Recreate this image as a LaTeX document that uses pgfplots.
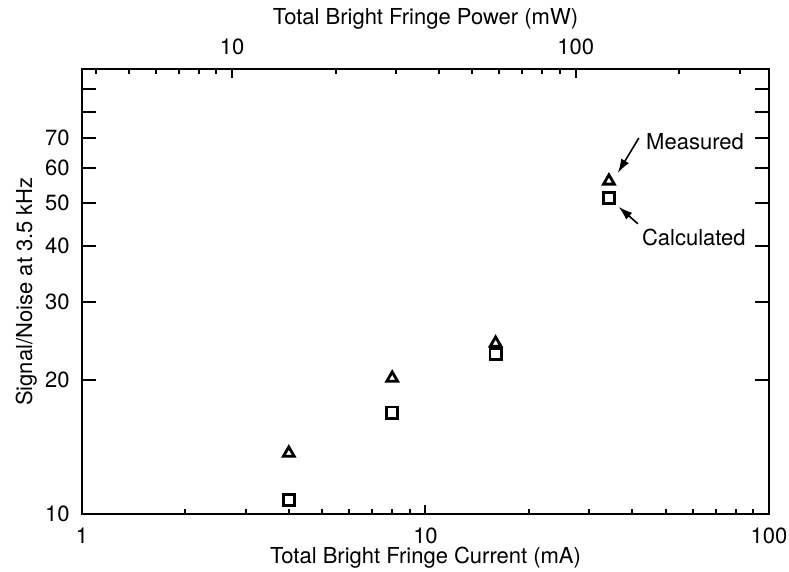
\documentclass[border=0pt]{standalone}
\usepackage{fontspec}
\setmainfont{TeX Gyre Heros}
\usepackage{pgfplots}
\pgfplotsset{compat=1.18}
\usetikzlibrary{arrows.meta}
\begin{document}
\begin{tikzpicture}
\useasboundingbox (-41pt,-29pt) rectangle (353.5pt,257pt);
% y axis and box
\begin{axis}[
  at={(0pt,0pt)}, anchor=south west,
  width=343.5pt, height=222.5pt, scale only axis,
  xmode=log, ymode=log,
  ymin=10, ymax=100,
  xmin=1, xmax=100,
  font=\fontsize{11}{13}\selectfont,
  axis line style={line width=1pt},
  every tick/.style={black, line width=1pt},
  tick align=inside,
  xtick=\empty, xminorticks=false, yminorticks=false,
  ytick={10,20,30,40,50,60,70,80,90},
  yticklabels={10,20,30,40,50,60,70,{},{}},
  ytick pos=both,
  major tick length=7pt,
  yticklabel style={anchor=east, inner sep=0pt, xshift=-6pt},
  ylabel={Signal/Noise at 3.5 kHz},
  ylabel style={at={(axis description cs:-0.081,0.5)}, anchor=center},
]
\end{axis}
% bottom x axis and data
\begin{axis}[
  at={(0pt,0pt)}, anchor=south west,
  width=343.5pt, height=222.5pt, scale only axis,
  xmode=log, ymode=log,
  ymin=10, ymax=100,
  xmin=1, xmax=100,
  font=\fontsize{11}{13}\selectfont,
  axis line style={line width=1pt},
  every tick/.style={black, line width=1pt},
  tick align=inside,
  hide y axis,
  xtick pos=left,
  xtick={1,10,100}, xticklabels={1,10,100},
  minor xtick={2,3,4,5,6,7,8,9,20,30,40,50,60,70,80,90},
  major tick length=4.5pt, minor tick length=2.5pt,
  xticklabel style={anchor=center, yshift=-11pt},
  xlabel={Total Bright Fringe Current (mA)},
  xlabel style={at={(axis description cs:0.5,-0.0989)}, anchor=center},
  clip=false,
]
\addplot[only marks, mark=triangle, mark size=3.1pt, line width=1.4pt, black]
  coordinates {(4,13.7) (8,20.2) (16,24.2) (34.2,56.0)};
\addplot[only marks, mark=square, mark size=2.8pt, line width=1.4pt, black]
  coordinates {(4,10.75) (8,16.9) (16,22.9) (34.2,51.3)};
\draw[-{Latex[length=7pt,width=4.5pt]}, line width=0.8pt]
  (axis cs:41.8,70.0) -- (axis cs:36.3,58.4);
\node[anchor=west, inner sep=0pt] at (axis cs:43.8,68.6) {Measured};
\draw[-{Latex[length=7pt,width=4.5pt]}, line width=0.8pt]
  (axis cs:41.5,44.9) -- (axis cs:36.5,49.0);
\node[anchor=west, inner sep=0pt] at (axis cs:42.6,41.9) {Calculated};
\end{axis}
% top x axis (power)
\begin{axis}[
  at={(0pt,0pt)}, anchor=south west,
  width=343.5pt, height=222.5pt, scale only axis,
  xmode=log, ymode=log,
  ymin=10, ymax=100,
  xmin=3.654, xmax=365.4,
  font=\fontsize{11}{13}\selectfont,
  axis line style={line width=1pt},
  every tick/.style={black, line width=1pt},
  tick align=inside,
  hide y axis,
  xtick pos=right,
  xtick={10,100}, xticklabels={10,100},
  minor xtick={4,5,6,7,8,9,20,30,40,50,60,70,80,90,200,300},
  major tick length=4.5pt, minor tick length=2.5pt,
  xticklabel style={anchor=center, yshift=11pt},
  xlabel={Total Bright Fringe Power (mW)},
  xlabel style={at={(axis description cs:0.5,1.112)}, anchor=center},
]
\end{axis}
\end{tikzpicture}
\end{document}
